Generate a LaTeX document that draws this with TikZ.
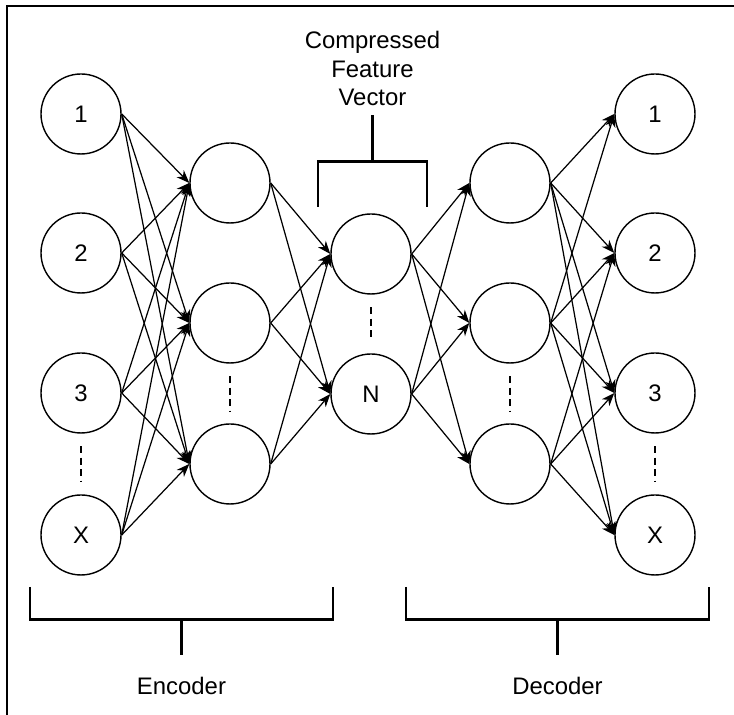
\documentclass[tikz,border=0pt]{standalone}
\usepackage{fontspec}
\setmainfont{Liberation Sans}
\usetikzlibrary{arrows.meta}

\begin{document}
\begin{tikzpicture}[
		unit/.style={circle, draw=black, line width=0.8pt, minimum size=1.6cm, inner sep=0pt, font=\fontsize{13.6}{16.2}\selectfont},
		link/.style={-{Stealth[length=0.26cm, width=0.2cm, inset=0.08cm]}, line width=0.7pt},
		gap/.style={dash pattern=on 0.14cm off 0.09cm, line width=0.8pt, shorten <=0.25cm, shorten >=0.25cm},
		bracket/.style={line width=1.7pt},
		caption/.style={font=\fontsize{13.6}{16.2}\selectfont, align=center}
		]
		
		\useasboundingbox (0,0) rectangle (14.68,14.30);
		
		% -------------------------------------------------
		% Frame
		% -------------------------------------------------
		\draw[line width=1.4pt] (0.14,0) -- (0.14,14.18) -- (14.68,14.18);
		
		% -------------------------------------------------
		% Layers
		% -------------------------------------------------
		% input
		\node[unit] (in1) at (1.62,12.02) {1};
		\node[unit] (in2) at (1.62,9.24) {2};
		\node[unit] (in3) at (1.62,6.44) {3};
		\node[unit] (in4) at (1.62,3.60) {X};
		
		% encoder hidden
		\node[unit] (h1) at (4.60,10.64) {};
		\node[unit] (h2) at (4.60,7.84) {};
		\node[unit] (h3) at (4.60,5.02) {};
		
		% code
		\node[unit] (c1) at (7.42,9.22) {};
		\node[unit] (c2) at (7.42,6.42) {N};
		
		% decoder hidden
		\node[unit] (d1) at (10.20,10.64) {};
		\node[unit] (d2) at (10.20,7.84) {};
		\node[unit] (d3) at (10.20,5.02) {};
		
		% output
		\node[unit] (out1) at (13.10,12.02) {1};
		\node[unit] (out2) at (13.10,9.24) {2};
		\node[unit] (out3) at (13.10,6.44) {3};
		\node[unit] (out4) at (13.10,3.60) {X};
		
		% dotted gaps
		\draw[gap] (in3) -- (in4);
		\draw[gap] (h2) -- (h3);
		\draw[gap] (c1) -- (c2);
		\draw[gap] (d2) -- (d3);
		\draw[gap] (out3) -- (out4);
		
		% -------------------------------------------------
		% Connections
		% -------------------------------------------------
		\foreach \i in {1,...,4}
		\foreach \j in {1,2,3}
		\draw[link] (in\i.east) -- (h\j.west);
		\foreach \i in {1,2,3}
		\foreach \j in {1,2}
		\draw[link] (h\i.east) -- (c\j.west);
		\foreach \i in {1,2}
		\foreach \j in {1,2,3}
		\draw[link] (c\i.east) -- (d\j.west);
		\foreach \i/\j in {1/1,1/2,1/3,1/4,2/1,2/2,2/3,2/4,3/2,3/3,3/4}
		\draw[link] (d\i.east) -- (out\j.west);
		
		% -------------------------------------------------
		% Brackets
		% -------------------------------------------------
		\node[caption] (cfv) at (7.45,12.93) {Compressed\\Feature\\Vector};
		\draw[bracket] (6.36,10.16) -- (6.36,11.06) -- (8.54,11.06) -- (8.54,10.16);
		\draw[bracket] (7.45,11.06) -- (7.45,12.00);
		
		\node[caption] (enc) at (3.63,0.58) {Encoder};
		\draw[bracket] (0.60,2.56) -- (0.60,1.90) -- (6.66,1.90) -- (6.66,2.56);
		\draw[bracket] (3.63,1.90) -- (3.63,1.20);
		
		\node[caption] (dec) at (11.15,0.58) {Decoder};
		\draw[bracket] (8.12,2.56) -- (8.12,1.90) -- (14.18,1.90) -- (14.18,2.56);
		\draw[bracket] (11.15,1.90) -- (11.15,1.20);
		
	\end{tikzpicture}
\end{document}
